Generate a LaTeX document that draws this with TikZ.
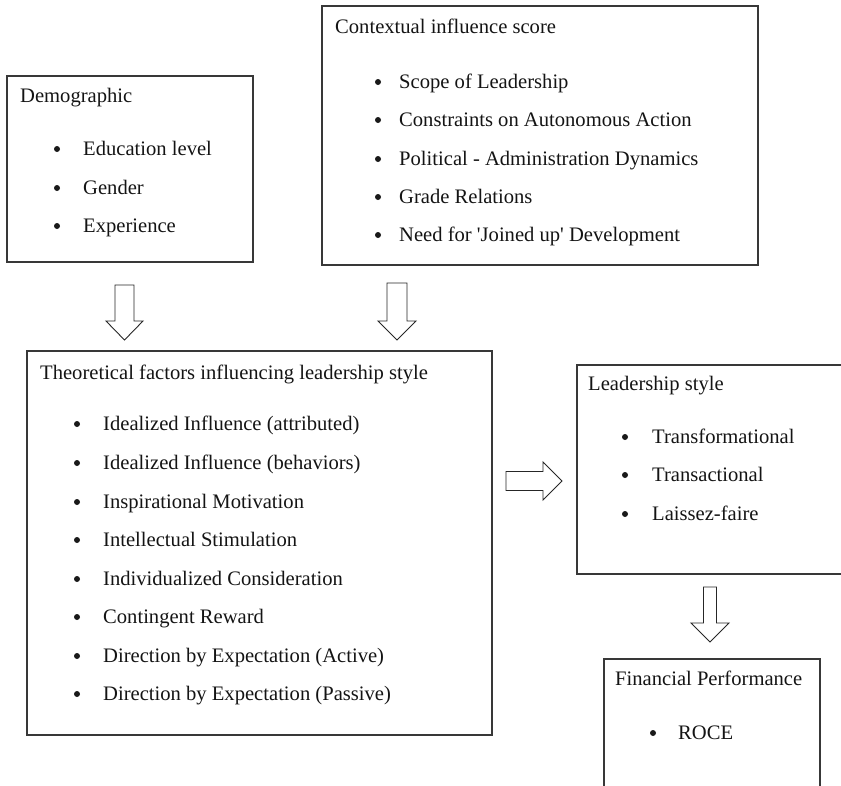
\documentclass[tikz,border=0pt]{standalone}
\usepackage{fontspec}
\setmainfont{Liberation Serif}
\newcommand\blkdown[6]{% x, ytop, ybase, ytip, shafthalf, headhalf
  \draw[blk] (#1-#5,#2) -- (#1+#5,#2) -- (#1+#5,#3) -- (#1+#6,#3) -- (#1,#4)
    -- (#1-#6,#3) -- (#1-#5,#3) -- cycle;}
\newcommand\blkright[6]{% y, xleft, xbase, xtip, shafthalf, headhalf
  \draw[blk] (#2,#1-#5) -- (#3,#1-#5) -- (#3,#1-#6) -- (#4,#1) -- (#3,#1+#6)
    -- (#3,#1+#5) -- (#2,#1+#5) -- cycle;}
\newcommand\bulitem[5]{% name, bullet x, text x, centre y, text
  \fill[black!90] (#2,#4+1) circle (3);
  \node[txt] (#1) at (#3,#4+7) {#5};}
\begin{document}
\begin{tikzpicture}[x=1pt,y=-1pt,
  box/.style={draw=black!78, line width=1.6pt, rectangle, inner sep=0pt},
  txt/.style={anchor=base west, inner sep=0pt, text=black!92, font=\fontsize{20.6}{24}\selectfont},
  blk/.style={draw=black!85, line width=0.9pt, fill=white, line join=miter}]
\useasboundingbox (0,0) rectangle (841,785);
\clip (0,0) rectangle (841,785);

% boxes
\node[box, minimum width=246, minimum height=186] (demo) at (130,169) {};
\node[box, minimum width=436, minimum height=259] (ctx) at (540,135.5) {};
\node[box, minimum width=465, minimum height=384] (theo) at (259.5,543) {};
\node[box, minimum width=293, minimum height=209] (lead) at (723.5,469.5) {};
\node[box, minimum width=216, minimum height=161] (fin) at (712,739.5) {};

% Demographic
\node[txt] (demoT) at (20,102) {Demographic};
\bulitem{d1}{57}{83}{148}{Education level}
\bulitem{d2}{57}{83}{187}{Gender}
\bulitem{d3}{57}{83}{225}{Experience}

% Contextual
\node[txt] (ctxT) at (335,33) {Contextual influence score};
\bulitem{c1}{378}{399}{81}{Scope of Leadership}
\bulitem{c2}{378}{399}{119}{Constraints on Autonomous Action}
\bulitem{c3}{378}{399}{158}{Political - Administration Dynamics}
\bulitem{c4}{378}{399}{196}{Grade Relations}
\bulitem{c5}{378}{399}{234}{Need for \textquotesingle Joined up\textquotesingle{} Development}

% Theoretical
\node[txt] (theoT) at (40,379) {Theoretical factors influencing leadership style};
\bulitem{t1}{77}{103}{423}{Idealized Influence (attributed)}
\bulitem{t2}{77}{103}{462}{Idealized Influence (behaviors)}
\bulitem{t3}{77}{103}{501}{Inspirational Motivation}
\bulitem{t4}{77}{103}{539}{Intellectual Stimulation}
\bulitem{t5}{77}{103}{578}{Individualized Consideration}
\bulitem{t6}{77}{103}{616}{Contingent Reward}
\bulitem{t7}{77}{103}{655}{Direction by Expectation (Active)}
\bulitem{t8}{77}{103}{693}{Direction by Expectation (Passive)}

% Leadership style
\node[txt] (leadT) at (588,390) {Leadership style};
\bulitem{l1}{625}{652}{436}{Transformational}
\bulitem{l2}{625}{652}{474}{Transactional}
\bulitem{l3}{625}{652}{513}{Laissez-faire}

% Financial
\node[txt] (finT) at (615,685) {Financial Performance};
\bulitem{f1}{653}{678}{732}{ROCE}

% block arrows
\blkdown{124.5}{285}{321}{340}{9.5}{18.5}
\blkdown{397}{283}{321}{340}{10}{19}
\blkdown{710}{587}{623}{642}{6.5}{19}
\blkright{481}{506}{543}{562}{9.5}{19}
\end{tikzpicture}
\end{document}
